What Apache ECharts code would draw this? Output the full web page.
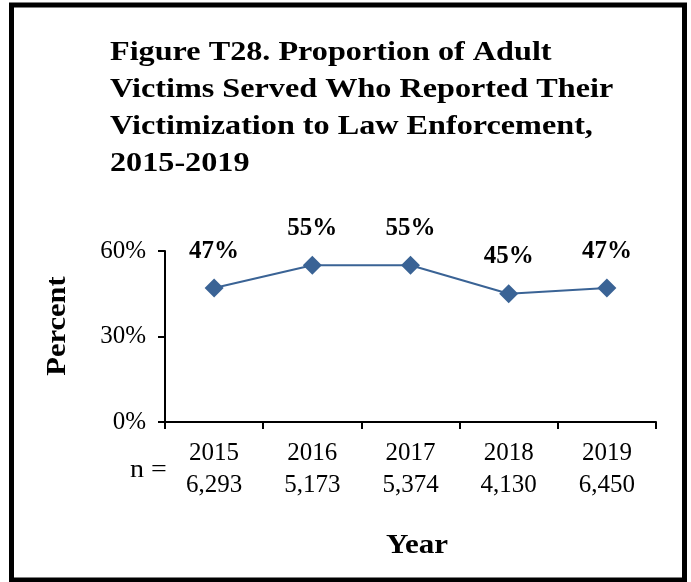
<!DOCTYPE html>
<html>
<head>
<meta charset="utf-8">
<script src="https://cdn.jsdelivr.net/npm/echarts@6/dist/echarts.min.js"></script>
<style>
  html, body { margin: 0; padding: 0; background: #fff; }
  #chart { width: 691px; height: 582px; }
</style>
</head>
<body>
<div id="chart"></div>
<script>
// Reporting rate by year, with the number of adult victims served (n)
const years = ['2015', '2016', '2017', '2018', '2019'];
const served = ['6,293', '5,173', '5,374', '4,130', '6,450'];
const percentReported = [47, 55, 55, 45, 47];
const yTicks = { min: 0, max: 60, interval: 30 };

const SERIF = "'Liberation Serif', 'Times New Roman', serif";
const LINE_BLUE = '#3A6395';
const WIDE = 1.15; // horizontal stretch of the wide serif lettering

const categoryLabels = years.map((y, i) => y + '\n' + served[i]);

const chart = echarts.init(document.getElementById('chart'), null, { renderer: 'canvas' });

chart.setOption({
  backgroundColor: '#ffffff',
  animation: false,
  grid: { left: 165, right: 35, top: 251, bottom: 160, containLabel: false },
  xAxis: {
    type: 'category',
    data: categoryLabels,
    boundaryGap: true,
    axisLine: { lineStyle: { color: '#000', width: 2 } },
    axisTick: { show: true, inside: false, length: 7, lineStyle: { color: '#000', width: 2 } },
    axisLabel: {
      fontFamily: SERIF,
      fontSize: 25,
      lineHeight: 32,
      color: '#000',
      margin: 15,
      interval: 0
    }
  },
  yAxis: {
    type: 'value',
    min: yTicks.min,
    max: yTicks.max,
    interval: yTicks.interval,
    splitLine: { show: false },
    axisLine: { show: true, lineStyle: { color: '#000', width: 2 } },
    axisTick: { show: true, inside: false, length: 7, lineStyle: { color: '#000', width: 2 } },
    axisLabel: {
      formatter: '{value}%',
      fontFamily: SERIF,
      fontSize: 25,
      color: '#000',
      margin: 19
    }
  },
  series: [{
    type: 'line',
    data: percentReported,
    symbol: 'diamond',
    symbolSize: 19,
    itemStyle: { color: LINE_BLUE },
    lineStyle: { color: LINE_BLUE, width: 2 },
    label: {
      show: true,
      position: 'top',
      distance: 15,
      formatter: '{c}%',
      fontFamily: SERIF,
      fontWeight: 'bold',
      fontSize: 25,
      color: '#000'
    }
  }],
  graphic: [
    {
      // chart title
      type: 'text',
      x: 110,
      y: 34,
      scaleX: WIDE,
      style: {
        text: 'Figure T28. Proportion of Adult\nVictims Served Who Reported Their\nVictimization to Law Enforcement,\n2015-2019',
        fontFamily: SERIF,
        fontWeight: 'bold',
        fontSize: 28,
        lineHeight: 37,
        fill: '#000',
        align: 'left',
        verticalAlign: 'top'
      }
    },
    {
      // y-axis title
      type: 'text',
      x: 58,
      y: 326,
      rotation: Math.PI / 2,
      scaleX: 1.13,
      style: {
        text: 'Percent',
        fontFamily: SERIF,
        fontWeight: 'bold',
        fontSize: 27,
        fill: '#000',
        align: 'center',
        verticalAlign: 'middle'
      }
    },
    {
      // x-axis title
      type: 'text',
      x: 417,
      y: 546,
      scaleX: WIDE,
      style: {
        text: 'Year',
        fontFamily: SERIF,
        fontWeight: 'bold',
        fontSize: 27,
        fill: '#000',
        align: 'center',
        verticalAlign: 'middle'
      }
    },
    {
      // row caption for the sample sizes
      type: 'text',
      x: 130,
      y: 470,
      scaleX: 1.12,
      style: {
        text: 'n =',
        fontFamily: SERIF,
        fontSize: 25,
        fill: '#000',
        align: 'left',
        verticalAlign: 'middle'
      }
    },
    {
      // frame around the figure
      type: 'rect',
      shape: { x: 11.5, y: 5, width: 673, height: 575 },
      style: { fill: 'none', stroke: '#000', lineWidth: 5 },
      z: 100
    }
  ]
});
</script>
</body>
</html>
